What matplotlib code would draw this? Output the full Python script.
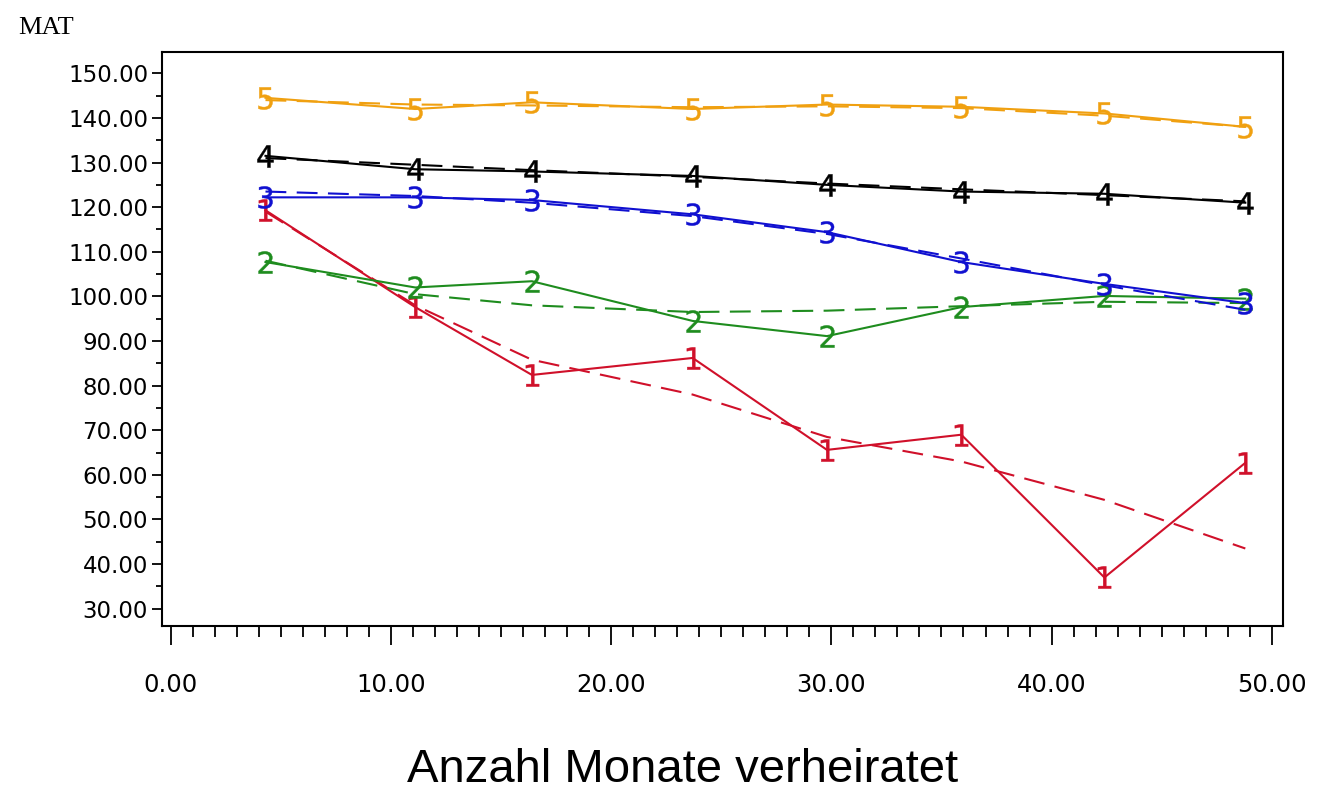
import matplotlib
matplotlib.use("Agg")
import matplotlib.pyplot as plt
from matplotlib.ticker import MultipleLocator, FormatStrFormatter

# months married (bin centres)
months = [4.3, 11.1, 16.4, 23.7, 29.8, 35.9, 42.4, 48.8]

# observed group means (solid) and fitted trends (dashed), groups 1..5
obs1 = [119.3, 97.6, 82.4, 86.2, 65.6, 69.0, 37.0, 62.7]
fit1 = [119.0, 98.0, 85.8, 78.0, 68.5, 63.0, 54.4, 43.5]
obs2 = [107.7, 102.0, 103.4, 94.5, 91.1, 97.6, 100.1, 99.5]
fit2 = [108.0, 100.5, 98.0, 96.5, 96.8, 97.8, 98.8, 98.5]
obs3 = [122.2, 122.2, 121.6, 118.4, 114.4, 107.7, 102.8, 98.5]
fit3 = [123.5, 122.5, 121.0, 118.0, 114.0, 108.5, 102.5, 97.0]
obs4 = [131.5, 128.5, 128.0, 127.0, 125.0, 123.5, 123.0, 121.0]
fit4 = [131.0, 129.5, 128.3, 126.8, 125.3, 124.0, 122.7, 121.3]
obs5 = [144.5, 142.0, 143.5, 142.0, 143.0, 142.5, 141.0, 138.0]
fit5 = [144.0, 143.0, 142.8, 142.4, 142.6, 142.2, 140.5, 138.0]

groups = [
    ("1", obs1, fit1, "#D0102A"),
    ("2", obs2, fit2, "#1E8C1E"),
    ("3", obs3, fit3, "#1010D0"),
    ("4", obs4, fit4, "#000000"),
    ("5", obs5, fit5, "#F0A010"),
]

fig = plt.figure(figsize=(13.17, 7.93), dpi=100)
ax = fig.add_axes([0.123, 0.211, 0.851, 0.723])

for lab, obs, fit, c in groups:
    ax.plot(months, fit, color=c, lw=1.5, ls=(0, (10, 5)))
    ax.plot(months, obs, color=c, lw=1.5, marker=f"${lab}$", ms=16,
            markeredgewidth=0.3)

ax.set_xlim(-0.4, 50.5)
ax.set_ylim(26.2, 154.7)

ax.xaxis.set_major_locator(MultipleLocator(10))
ax.xaxis.set_minor_locator(MultipleLocator(1))
ax.yaxis.set_major_locator(MultipleLocator(10))
ax.yaxis.set_minor_locator(MultipleLocator(5))
ax.xaxis.set_major_formatter(FormatStrFormatter("%.2f"))
ax.yaxis.set_major_formatter(FormatStrFormatter("%.2f"))

ax.tick_params(axis="x", which="major", length=14, width=1.3, pad=20,
               labelsize=17.5, direction="out")
ax.tick_params(axis="x", which="minor", length=8, width=1.3, direction="out")
ax.tick_params(axis="y", which="major", length=7, width=1.3, pad=3,
               labelsize=16.5, direction="out")
ax.tick_params(axis="y", which="minor", length=4, width=1.3, direction="out")
for s in ax.spines.values():
    s.set_linewidth(1.5)

fig.text(0.014, 0.965, "MAT", family="Liberation Serif", fontsize=19,
         ha="left", va="center")
fig.text(0.518, 0.029, "Anzahl Monate verheiratet", family="Liberation Sans",
         fontsize=34, ha="center", va="center")

fig.savefig("out.png", dpi=100)
